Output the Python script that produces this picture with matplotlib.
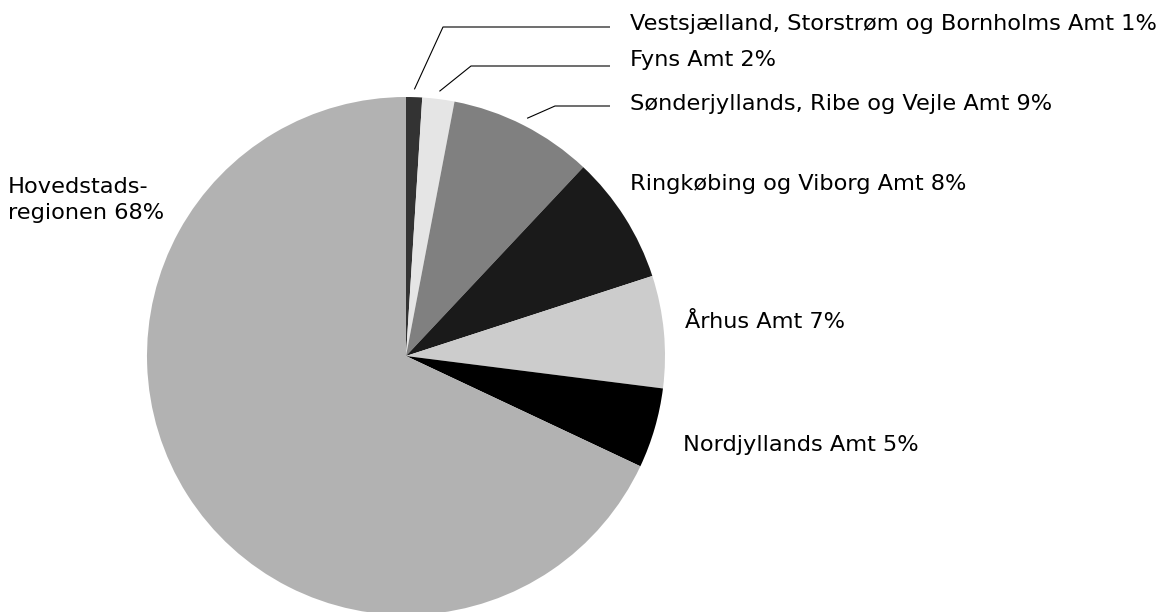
import matplotlib
matplotlib.use('Agg')
import matplotlib.pyplot as plt
import numpy as np

# data, clockwise from 12 o'clock
regions = ['Vestsjælland, Storstrøm og Bornholms Amt', 'Fyns Amt',
           'Sønderjyllands, Ribe og Vejle Amt', 'Ringkøbing og Viborg Amt',
           'Århus Amt', 'Nordjyllands Amt', 'Hovedstads-\nregionen']
shares = [1, 2, 9, 8, 7, 5, 68]
colors = ['#333333', '#e5e5e5', '#808080', '#1a1a1a', '#cccccc', '#000000', '#b2b2b2']

W, H = 1169, 612
plt.rcParams['font.family'] = ['DejaVu Sans']

fig = plt.figure(figsize=(W / 100, H / 100), dpi=100)
ax = fig.add_axes([0, 0, 1, 1])

cx, cy, r = 406, H - 356, 259
wedges, _ = ax.pie(shares, colors=colors, startangle=90, counterclock=False,
                   center=(cx, cy), radius=r, wedgeprops={'linewidth': 0})
ax.set_xlim(0, W)
ax.set_ylim(0, H)
ax.set_aspect('equal')
ax.axis('off')

fs = 16.2
# label placement (pixel coords from top): (text x, text y, elbow x or None, line y)
place = [(630, 24.5, 443, 27),
         (630, 60, 471, 66),
         (630, 104.5, 555, 106),
         (630, 184.5, None, None),
         (685, 321.5, None, None),
         (683, 445, None, None),
         (8, 200, None, None)]

for w, name, val, (tx, ty, ex, ly) in zip(wedges, regions, shares, place):
    ax.text(tx, H - ty, '%s %d%%' % (name, val), fontsize=fs, va='center',
            ha='left', linespacing=1.4, color='black')
    if ex is not None:
        mid = np.deg2rad((w.theta1 + w.theta2) / 2)
        sx = cx + r * 1.03 * np.cos(mid)
        sy = cy + r * 1.03 * np.sin(mid)
        ax.plot([sx, ex, 610], [sy, H - ly, H - ly], color='black', lw=0.8,
                solid_capstyle='butt')

fig.savefig('out.png', dpi=100)
